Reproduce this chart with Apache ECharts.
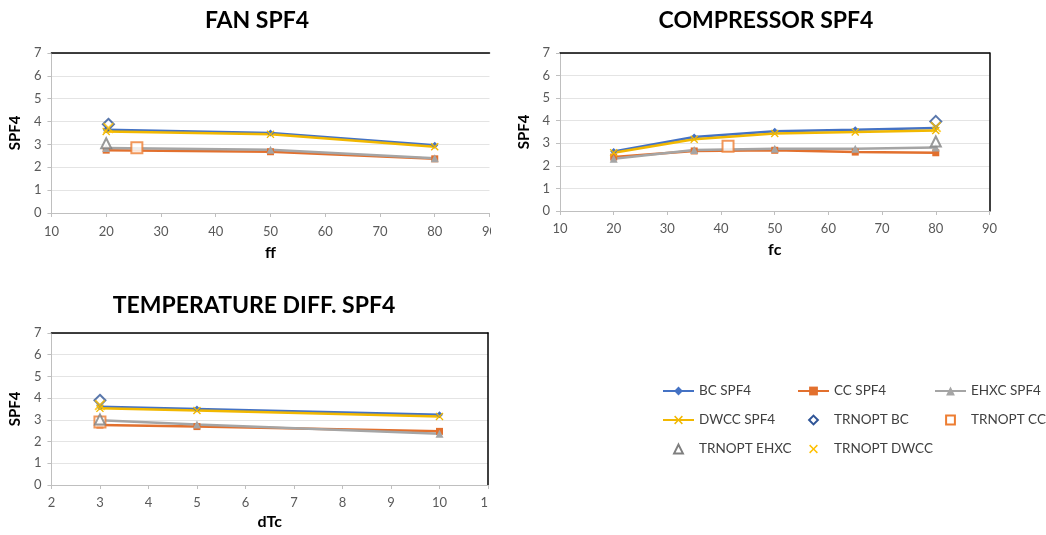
<!DOCTYPE html>
<html>
<head>
<meta charset="utf-8">
<script src="https://cdn.jsdelivr.net/npm/echarts@6/dist/echarts.min.js"></script>
<style>
  html, body { margin: 0; padding: 0; background: #fff; }
  body { width: 1046px; height: 535px; position: relative; overflow: hidden; }
  .clip { position: absolute; overflow: hidden; }
  .inner { position: absolute; left: 0; top: 0; }
</style>
</head>
<body>
<div class="clip" style="left:0;top:0;width:491px;height:270px;"><div id="fan" class="inner" style="width:504px;height:270px;"></div></div>
<div class="clip" style="left:500px;top:0;width:500px;height:270px;"><div id="comp" class="inner" style="width:500px;height:270px;"></div></div>
<div class="clip" style="left:0;top:270px;width:489px;height:265px;"><div id="temp" class="inner" style="width:520px;height:265px;"></div></div>
<div id="leg" style="position:absolute;left:640px;top:370px;width:406px;height:100px;"></div>
<script>
// ---------- DATA ----------
// FAN SPF4 (x = ff)
const fanX = [20, 50, 80];
const fanBC = [3.64, 3.50, 2.96];
const fanCC = [2.75, 2.68, 2.37];
const fanEHXC = [2.84, 2.77, 2.40];
const fanDWCC = [3.57, 3.44, 2.90];
const fanOptBC = [20.4, 3.88];
const fanOptCC = [25.6, 2.86];
const fanOptEHXC = [20, 3.05];
const fanOptDWCC = [20.4, 3.72];

// COMPRESSOR SPF4 (x = fc)
const compX = [20, 35, 50, 65, 80];
const compBC = [2.64, 3.28, 3.53, 3.60, 3.68];
const compCC = [2.39, 2.66, 2.69, 2.61, 2.58];
const compEHXC = [2.32, 2.70, 2.76, 2.76, 2.81];
const compDWCC = [2.58, 3.18, 3.43, 3.50, 3.57];
const compOptBC = [80, 3.97];
const compOptCC = [41.3, 2.87];
const compOptEHXC = [80, 3.08];
const compOptDWCC = [80, 3.72];

// TEMPERATURE DIFF. SPF4 (x = dTc)
const tempX = [3, 5, 10];
const tempBC = [3.60, 3.50, 3.23];
const tempCC = [2.76, 2.69, 2.47];
const tempEHXC = [2.98, 2.79, 2.36];
const tempDWCC = [3.53, 3.43, 3.16];
const tempOptBC = [3, 3.90];
const tempOptCC = [3, 2.90];
const tempOptEHXC = [3, 3.02];
const tempOptDWCC = [3, 3.68];

// axis ticks
const spfTicks = { min: 0, max: 7, interval: 1 };
const fanTicks = { min: 10, max: 90, interval: 10 };
const compTicks = { min: 10, max: 90, interval: 10 };
const tempTicks = { min: 2, max: 11, interval: 1 };

const names = ['BC SPF4', 'CC SPF4', 'EHXC SPF4', 'DWCC SPF4', 'TRNOPT BC', 'TRNOPT CC', 'TRNOPT EHXC', 'TRNOPT DWCC'];

// ---------- STYLE ----------
const FONT = 'Lato, "Open Sans", sans-serif';
const C_BC = '#4472C4', C_CC = '#E2702E', C_EHXC = '#A5A5A5', C_DWCC = '#F2B800';
const C_OPT_BC = '#2F5597', C_OPT_CC = '#ED7D31', C_OPT_EHXC = '#7F7F7F', C_OPT_DWCC = '#FFC000';
const XPATH = 'path://M0,1.2L1.2,0L5,3.8L8.8,0L10,1.2L6.2,5L10,8.8L8.8,10L5,6.2L1.2,10L0,8.8L3.8,5Z';

function pairs(xs, ys) { return xs.map((x, i) => [x, ys[i]]); }

function lineSeries(name, data, color, symbol, size) {
  return {
    name, type: 'line', data, symbol, symbolSize: size,
    lineStyle: { color, width: 2.5 },
    itemStyle: { color, borderWidth: 0 },
    z: 3, animation: false
  };
}
function optSeries(name, pt, color, symbol, size, filled) {
  return {
    name, type: 'scatter', data: [pt], symbol, symbolSize: size, symbolKeepAspect: true,
    itemStyle: filled ? { color, borderWidth: 0 } : { color, borderColor: color, borderWidth: 1.6 },
    z: 5, animation: false
  };
}
function allSeries(xs, bc, cc, eh, dw, oBC, oCC, oEH, oDW) {
  return [
    lineSeries(names[0], pairs(xs, bc), C_BC, 'diamond', 7),
    lineSeries(names[1], pairs(xs, cc), C_CC, 'rect', 7),
    lineSeries(names[2], pairs(xs, eh), C_EHXC, 'triangle', 8),
    lineSeries(names[3], pairs(xs, dw), C_DWCC, XPATH, 8),
    optSeries(names[4], oBC, C_OPT_BC, 'emptyDiamond', 11, false),
    optSeries(names[5], oCC, C_OPT_CC, 'emptyRect', 11, false),
    optSeries(names[6], oEH, C_OPT_EHXC, 'emptyTriangle', 10, false),
    optSeries(names[7], oDW, C_OPT_DWCC, XPATH, 11, true)
  ];
}

function buildOption(cfg) {
  const axisGray = '#BFBFBF';
  const xAxes = [{
    type: 'value', min: cfg.xt.min, max: cfg.xt.max, interval: cfg.xt.interval,
    name: cfg.xName, nameLocation: 'middle', nameGap: cfg.xNameGap,
    nameTextStyle: { fontFamily: FONT, fontWeight: 'bold', fontSize: 16, color: '#000' },
    axisLine: { show: true, onZero: false, lineStyle: { color: axisGray, width: 1 } },
    axisTick: { show: true, length: 4, lineStyle: { color: axisGray } },
    axisLabel: { fontFamily: FONT, fontSize: 13, color: '#595959', margin: cfg.xLabelMargin, showMaxLabel: true, hideOverlap: false },
    splitLine: { show: false }
  }, {
    type: 'value', position: 'top', min: cfg.xt.min, max: cfg.xt.max, interval: cfg.xt.interval,
    axisLine: { show: true, onZero: false, lineStyle: { color: '#000', width: 1.5 } },
    axisTick: { show: false }, axisLabel: { show: false }, splitLine: { show: false }
  }];
  const yAxes = [{
    type: 'value', min: spfTicks.min, max: spfTicks.max, interval: spfTicks.interval,
    name: 'SPF4', nameLocation: 'middle', nameGap: cfg.yNameGap, nameRotate: 90,
    nameTextStyle: { fontFamily: FONT, fontWeight: 'bold', fontSize: 15, color: '#000' },
    axisLine: { show: true, lineStyle: { color: axisGray, width: 1 } },
    axisTick: { show: true, length: 4, lineStyle: { color: axisGray } },
    axisLabel: { fontFamily: FONT, fontSize: 13, color: '#595959', margin: 10 },
    splitLine: { show: true, lineStyle: { color: '#E4E4E4', width: 1 } }
  }];
  if (cfg.rightLine) {
    yAxes.push({
      type: 'value', position: 'right', min: spfTicks.min, max: spfTicks.max, interval: spfTicks.interval,
      axisLine: { show: true, lineStyle: { color: '#000', width: 1.5 } },
      axisTick: { show: false }, axisLabel: { show: false }, splitLine: { show: false }
    });
  }
  return {
    animation: false,
    backgroundColor: 'transparent',
    title: {
      text: cfg.title, left: cfg.titleX, top: cfg.titleY, textAlign: 'center',
      textStyle: { fontFamily: FONT, fontWeight: 'bold', fontSize: 23, color: '#000' }
    },
    grid: cfg.grid,
    xAxis: xAxes,
    yAxis: yAxes,
    series: cfg.series
  };
}

const fan = echarts.init(document.getElementById('fan'), null, { renderer: 'canvas' });
fan.setOption(buildOption({
  title: 'FAN SPF4', titleX: 252, titleY: 4,
  grid: { left: 50, top: 53, width: 439.5, height: 160, containLabel: false },
  xt: fanTicks, xName: 'ff', xNameGap: 32, xLabelMargin: 12, yNameGap: 24, rightLine: false,
  series: allSeries(fanX, fanBC, fanCC, fanEHXC, fanDWCC, fanOptBC, fanOptCC, fanOptEHXC, fanOptDWCC)
}));

const comp = echarts.init(document.getElementById('comp'), null, { renderer: 'canvas' });
comp.setOption(buildOption({
  title: 'COMPRESSOR SPF4', titleX: 261, titleY: 4,
  grid: { left: 60, top: 53, width: 439, height: 158, containLabel: false },
  xt: compTicks, xName: 'fc', xNameGap: 31, xLabelMargin: 11, yNameGap: 24, rightLine: true,
  series: allSeries(compX, compBC, compCC, compEHXC, compDWCC, compOptBC, compOptCC, compOptEHXC, compOptDWCC)
}));

const temp = echarts.init(document.getElementById('temp'), null, { renderer: 'canvas' });
temp.setOption(buildOption({
  title: 'TEMPERATURE DIFF. SPF4', titleX: 249, titleY: 19,
  grid: { left: 49, top: 63, width: 439, height: 158, containLabel: false },
  xt: tempTicks, xName: 'dTc', xNameGap: 29, xLabelMargin: 11, yNameGap: 24, rightLine: true,
  series: allSeries(tempX, tempBC, tempCC, tempEHXC, tempDWCC, tempOptBC, tempOptCC, tempOptEHXC, tempOptDWCC)
}));

// Legend (separate instance, same series styles, no data points).
// Marker-only entries are shown as line-type entries with an invisible line so the icon keeps its shape.
const leg = echarts.init(document.getElementById('leg'), null, { renderer: 'canvas' });
const legSeries = allSeries([], [], [], [], [], [], [], [], []).map(s => {
  const o = Object.assign({}, s, { data: [] });
  if (s.type === 'scatter') {
    o.type = 'line';
    o.lineStyle = { opacity: 0, width: 0 };
  }
  return o;
});
function legendCol(left, data) {
  return {
    orient: 'vertical', left, top: 9, itemWidth: 31, itemHeight: 11, itemGap: 15,
    data, selectedMode: false,
    textStyle: { fontFamily: FONT, fontSize: 13.5, color: '#404040' }
  };
}
leg.setOption({
  animation: false,
  grid: { left: -100, top: -100, width: 1, height: 1 },
  xAxis: { type: 'value', show: false },
  yAxis: { type: 'value', show: false },
  legend: [
    legendCol(17, [names[0], names[3], names[6]]),
    legendCol(152, [names[1], names[4], names[7]]),
    legendCol(289, [names[2], names[5]])
  ],
  series: legSeries
});
</script>
</body>
</html>
